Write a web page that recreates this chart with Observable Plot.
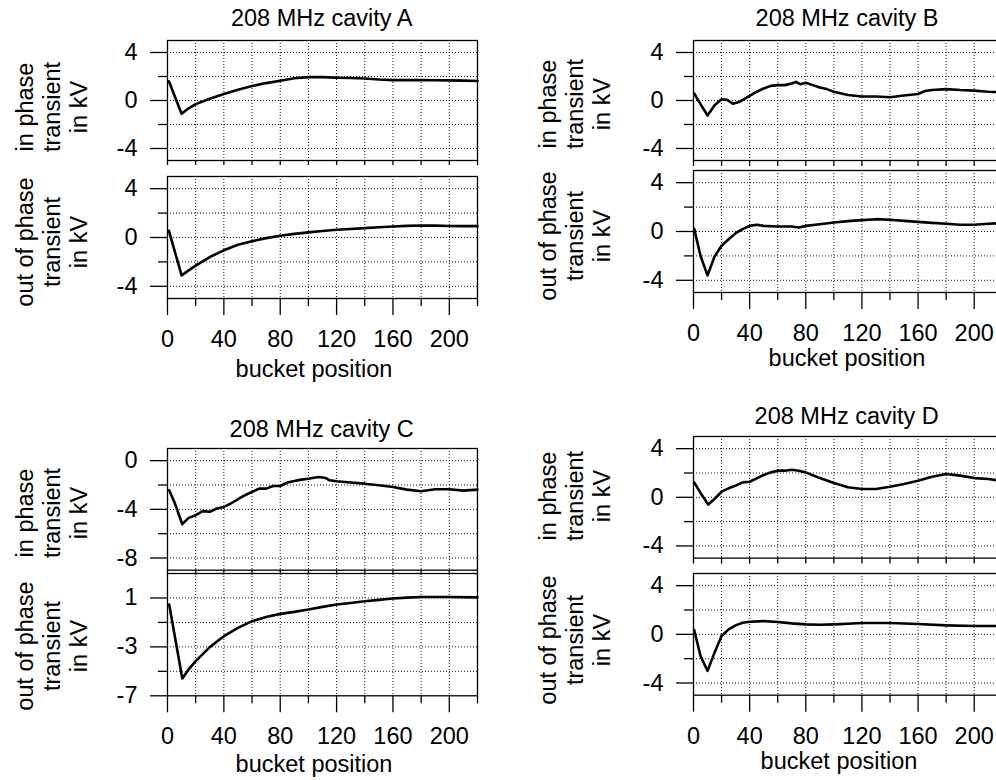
<!DOCTYPE html>
<html>
<head>
<meta charset="utf-8">
<script src="https://cdn.jsdelivr.net/npm/d3@7"></script>
<script src="https://cdn.jsdelivr.net/npm/@observablehq/plot@0.6"></script>
<style>
  html, body { margin: 0; padding: 0; background: #fff; }
  #chart { position: relative; width: 996px; height: 780px; overflow: hidden; background: #fff;
           font-family: "Liberation Sans", Arial, Helvetica, sans-serif; color: #000; }
  .t { position: absolute; font-size: 23.5px; line-height: 1; white-space: nowrap; }
  .yl { position: absolute; font-size: 23.5px; line-height: 27px; white-space: nowrap; text-align: center; }
</style>
</head>
<body>
<div id="chart"></div>
<script>
// ---------------- data ----------------
const titles = ["208 MHz cavity A", "208 MHz cavity B", "208 MHz cavity C", "208 MHz cavity D"];
const yLabelIn = ["in phase", "transient", "in kV"];
const yLabelOut = ["out of phase", "transient", "in kV"];
const xLabel = "bucket position";
const xTickLabels = [0, 40, 80, 120, 160, 200];
const xMinorTicks = [20, 60, 100, 140, 180, 220];
const xGridTicks = [20, 40, 60, 80, 100, 120, 140, 160, 180, 200];

const aInX = [1,10,15,20,30,40,50,60,70,80,90,100,110,120,130,140,150,160,170,180,190,200,210,220];
const aInY = [1.6,-1.1,-0.65,-0.3,0.15,0.55,0.9,1.2,1.45,1.65,1.85,1.95,1.95,1.9,1.87,1.83,1.75,1.7,1.7,1.7,1.69,1.68,1.66,1.63];
const aOutX = [1,10,15,20,30,40,50,60,70,80,90,100,110,120,130,140,150,160,170,180,190,200,210,220];
const aOutY = [0.55,-3.1,-2.7,-2.3,-1.6,-1.05,-0.6,-0.3,-0.05,0.15,0.3,0.42,0.53,0.63,0.7,0.77,0.84,0.9,0.95,0.98,0.97,0.94,0.93,0.93];

const bInX = [0.5,5,10,15,20,24,28,33,40,45,50,55,60,65,70,73,76,80,85,90,95,100,110,120,130,140,150,160,165,170,180,190,200,210,215,220];
const bInY = [0.6,-0.3,-1.25,-0.4,0.1,0.05,-0.27,-0.1,0.38,0.73,1.0,1.22,1.28,1.28,1.41,1.55,1.36,1.47,1.28,1.09,0.95,0.73,0.46,0.33,0.33,0.27,0.41,0.54,0.79,0.87,0.95,0.87,0.82,0.73,0.71,0.7];
const bOutX = [0.5,5,10,15,20,25,30,35,40,45,50,60,70,75,80,90,100,110,120,130,140,150,160,170,180,190,200,210,220];
const bOutY = [0.22,-2.0,-3.6,-2.05,-1.17,-0.63,-0.14,0.19,0.46,0.55,0.46,0.41,0.41,0.33,0.46,0.6,0.74,0.85,0.93,1.01,0.96,0.87,0.79,0.71,0.63,0.55,0.55,0.63,0.7];

const cInX = [1.2,5,10.5,15,20,25,30,35,40,45,50,55,60,65,70,75,80,85,90,95,100,105,108,112,115,120,130,140,150,160,170,180,190,200,210,220];
const cInY = [-2.43,-3.44,-5.22,-4.7,-4.48,-4.15,-4.2,-3.93,-3.8,-3.52,-3.17,-2.84,-2.57,-2.3,-2.3,-2.08,-2.08,-1.8,-1.67,-1.56,-1.48,-1.39,-1.34,-1.42,-1.61,-1.69,-1.8,-1.89,-2.02,-2.16,-2.38,-2.51,-2.35,-2.35,-2.46,-2.38];
const cOutX = [1.2,10.5,15,20,30,40,50,60,70,80,90,100,110,120,130,140,150,160,170,180,200,220];
const cOutY = [0.46,-5.58,-4.84,-4.16,-3.02,-2.13,-1.45,-0.9,-0.55,-0.3,-0.14,0.05,0.27,0.46,0.59,0.73,0.84,0.95,1.03,1.08,1.08,1.05];

const dInX = [0.5,5,10.5,15,20,25,30,35,40,45,50,55,60,65,70,75,80,90,100,110,120,130,140,150,160,170,180,190,200,210,220];
const dInY = [1.23,0.36,-0.6,-0.14,0.46,0.74,0.96,1.23,1.28,1.56,1.83,2.05,2.19,2.19,2.27,2.19,2.05,1.58,1.17,0.82,0.68,0.68,0.87,1.09,1.37,1.69,1.91,1.78,1.58,1.5,1.35];
const dOutX = [0.5,5,10,15,20,25,30,35,40,50,60,70,80,90,100,110,120,140,160,180,200,220];
const dOutY = [0.36,-1.78,-3.0,-1.5,-0.14,0.41,0.74,0.96,1.04,1.09,1.01,0.9,0.82,0.79,0.82,0.87,0.93,0.93,0.85,0.74,0.68,0.68];

// y-axis tick sets
const yMajorStd = [-4, 0, 4], yMinorStd = [-2, 2], yGridStd = [-4, -2, 0, 2, 4];
const yMajorCin = [0, -4, -8], yMinorCin = [-2, -6], yGridCin = [-8, -6, -4, -2, 0];
const yMajorCout = [1, -3, -7], yMinorCout = [-1, -5], yGridCout = [-5, -3, -1, 1];

// ---------------- layout ----------------
const FONT = '"Liberation Sans", Arial, Helvetica, sans-serif';
const F = 23.5;
const chart = document.getElementById("chart");

const subplots = [
  {xs: aInX,  ys: aInY,  left: 167.3, right: 477.3,  top: 40,    bottom: 160,   ydom: [-5, 5], major: yMajorStd, minor: yMinorStd, grid: yGridStd, full: false, tick: 5},
  {xs: aOutX, ys: aOutY, left: 167.3, right: 477.3,  top: 176,   bottom: 298,   ydom: [-5, 5], major: yMajorStd, minor: yMinorStd, grid: yGridStd, full: true},
  {xs: bInX,  ys: bInY,  left: 693.3, right: 1002.1, top: 40,    bottom: 160,   ydom: [-5, 5], major: yMajorStd, minor: yMinorStd, grid: yGridStd, full: false, tick: 6},
  {xs: bOutX, ys: bOutY, left: 693.3, right: 1002.1, top: 170,   bottom: 292,   ydom: [-5, 5], major: yMajorStd, minor: yMinorStd, grid: yGridStd, full: true},
  {xs: cInX,  ys: cInY,  left: 167.3, right: 477.3,  top: 448.3, bottom: 570,   ydom: [-9, 1], major: yMajorCin, minor: yMinorCin, grid: yGridCin, full: false, tick: 5},
  {xs: cOutX, ys: cOutY, left: 167.3, right: 477.3,  top: 572.7, bottom: 695,   ydom: [-7, 3], major: yMajorCout, minor: yMinorCout, grid: yGridCout, full: true},
  {xs: dInX,  ys: dInY,  left: 693.3, right: 1002.1, top: 435.7, bottom: 557.3, ydom: [-5, 5], major: yMajorStd, minor: yMinorStd, grid: yGridStd, full: false, tick: 6},
  {xs: dOutX, ys: dOutY, left: 693.3, right: 1002.1, top: 573.3, bottom: 695,   ydom: [-5, 5], major: yMajorStd, minor: yMinorStd, grid: yGridStd, full: true}
];

const gridStyle = {stroke: "#111", strokeOpacity: 1, strokeWidth: 1, strokeDasharray: "1,2"};
const blank = () => "";

function subplot(cfg) {
  const ML = 150, MR = 3, MT = 3;
  const MB = cfg.full ? 62 : 14;
  const fw = cfg.right - cfg.left, fh = cfg.bottom - cfg.top;
  const data = cfg.xs.map((x, i) => ({x, y: cfg.ys[i]}));
  const marks = [
    Plot.gridX(xGridTicks, gridStyle),
    Plot.gridY(cfg.grid, gridStyle),
    Plot.axisY(cfg.major, {tickSize: 17, tickPadding: 13, tickFormat: d => String(d), label: null, strokeWidth: 1.3}),
    Plot.axisY(cfg.minor, {tickSize: 9, tickFormat: blank, label: null, strokeWidth: 1.3})
  ];
  if (cfg.full) {
    marks.push(
      Plot.axisX(xTickLabels, {tickSize: 17, tickFormat: blank, label: null, strokeWidth: 1.3}),
      Plot.axisX(xMinorTicks, {tickSize: 8, tickFormat: blank, label: null, strokeWidth: 1.3}),
      Plot.axisX(xTickLabels, {tickSize: 0, tickPadding: 32, tickFormat: d => String(d), label: null})
    );
  } else {
    marks.push(Plot.axisX(xGridTicks.concat([0, 220]), {tickSize: cfg.tick, tickFormat: blank, label: null, strokeWidth: 1.3}));
  }
  marks.push(
    Plot.line(data, {x: "x", y: "y", stroke: "#000", strokeWidth: 2.6, strokeLinejoin: "round"}),
    Plot.frame({stroke: "#000", strokeWidth: 1.3})
  );
  const svg = Plot.plot({
    width: ML + fw + MR,
    height: MT + fh + MB,
    marginLeft: ML, marginRight: MR, marginTop: MT, marginBottom: MB,
    x: {domain: [0, 220]},
    y: {domain: cfg.ydom},
    style: {fontFamily: FONT, fontSize: F + "px", color: "#000", background: "transparent", overflow: "visible", maxWidth: "none"},
    marks
  });
  svg.style.position = "absolute";
  svg.style.left = (cfg.left - ML) + "px";
  svg.style.top = (cfg.top - MT) + "px";
  chart.append(svg);
}
subplots.forEach(subplot);

// ---------------- text ----------------
function textAt(str, cx, baseline) {
  const d = document.createElement("div");
  d.className = "t";
  d.textContent = str;
  d.style.left = cx + "px";
  d.style.top = (baseline - 0.8465 * F) + "px";
  d.style.transform = "translateX(-50%)";
  chart.append(d);
}
function yLabel(lines, cx, cy) {
  const d = document.createElement("div");
  d.className = "yl";
  d.innerHTML = lines.join("<br>");
  d.style.left = cx + "px";
  d.style.top = cy + "px";
  d.style.transform = "translate(-50%,-50%) rotate(-90deg)";
  chart.append(d);
}

const titlePos = [[321.7, 26.7], [847, 26.7], [321.7, 438.3], [846.7, 425]];
titles.forEach((t, i) => textAt(t, titlePos[i][0], titlePos[i][1]));

const xLabelPos = [[314, 377.5], [847, 367], [314, 772.5], [839, 770]];
xLabelPos.forEach(p => textAt(xLabel, p[0], p[1]));

const yLabPos = [
  [yLabelIn, 51.5, 106.7], [yLabelOut, 51.5, 242],
  [yLabelIn, 575, 104], [yLabelOut, 575, 236],
  [yLabelIn, 51.5, 512.5], [yLabelOut, 51.5, 645.5],
  [yLabelIn, 575, 496], [yLabelOut, 575, 639.5]
];
yLabPos.forEach(p => yLabel(p[0], p[1], p[2]));
</script>
</body>
</html>
